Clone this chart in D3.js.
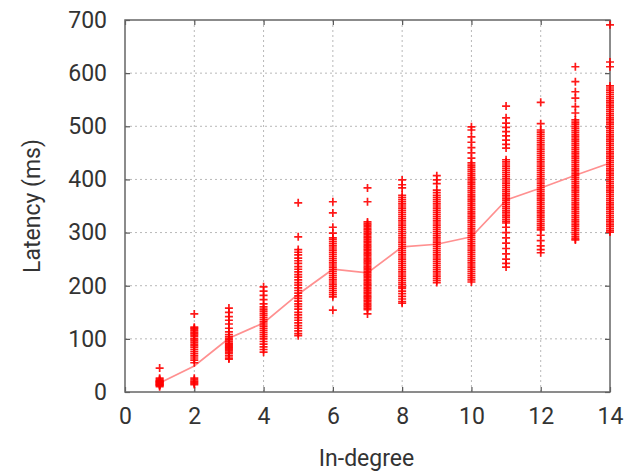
<!DOCTYPE html>
<html>
<head>
<meta charset="utf-8">
<script src="https://cdn.jsdelivr.net/npm/d3@7"></script>
<style>
  html, body { margin: 0; padding: 0; background: #fff; }
  svg { display: block; }
  text { font-family: Roboto, "Open Sans", sans-serif; fill: #333; }
</style>
</head>
<body>
<svg id="chart" width="626" height="472"></svg>
<script>
// ---- data ----
const degrees = [1, 2, 3, 4, 5, 6, 7, 8, 9, 10, 11, 12, 13, 14];
const meanLatency = [17, 49, 101, 130, 184, 231, 224, 273, 278, 292, 361, 384, 408, 431];
const samples = [
  [10, 12, 13, 14, 15, 16, 17, 18, 19, 20, 21, 22, 24, 26, 45],
  [147, 122, 120, 118, 115, 112, 110, 107, 104, 100, 97, 94, 90, 87, 84, 80, 76, 72, 68, 64, 60, 55, 26, 23, 20, 18, 16, 14],
  [158, 150, 142, 135, 128, 120, 113, 108, 104, 101, 98, 95, 92, 90, 88, 86, 84, 82, 80, 78, 75, 72, 68, 64, 62],
  [198, 190, 182, 174, 166, 160, 156, 152, 148, 144, 140, 136, 132, 128, 124, 120, 116, 112, 108, 104, 100, 95, 90, 85, 80, 75],
  [356, 292, 268, 263, 258, 252, 247, 242, 236, 231, 226, 221, 216, 211, 206, 201, 196, 191, 186, 181, 176, 171, 166, 161, 156, 150, 145, 140, 135, 130, 125, 120, 115, 110, 106],
  [358, 337, 310, 299, 290, 287, 283, 279, 275, 271, 267, 263, 259, 255, 251, 247, 243, 239, 235, 231, 227, 223, 219, 215, 211, 207, 203, 199, 195, 191, 187, 183, 179, 154],
  [384, 358, 320, 317, 314, 311, 308, 305, 302, 299, 296, 293, 290, 287, 284, 281, 278, 275, 272, 269, 266, 263, 260, 257, 254, 251, 248, 245, 242, 239, 236, 233, 230, 227, 224, 221, 218, 215, 212, 209, 206, 203, 200, 197, 194, 191, 188, 185, 182, 179, 176, 173, 170, 167, 164, 161, 158, 155, 147],
  [399, 390, 384, 370, 366, 362, 358, 354, 350, 346, 342, 338, 334, 330, 326, 322, 318, 314, 310, 306, 302, 298, 294, 290, 286, 282, 278, 274, 270, 266, 262, 258, 254, 250, 246, 242, 238, 234, 230, 226, 222, 218, 214, 210, 206, 202, 198, 195, 190, 185, 180, 175, 170, 167],
  [407, 399, 392, 380, 375, 370, 366, 362, 358, 354, 350, 346, 342, 338, 334, 330, 326, 322, 318, 314, 310, 306, 302, 298, 294, 290, 286, 282, 278, 274, 270, 266, 262, 258, 254, 250, 246, 242, 238, 234, 230, 226, 222, 218, 214, 210, 206],
  [499, 493, 480, 470, 460, 450, 440, 431, 427, 423, 419, 415, 411, 407, 403, 399, 395, 391, 387, 383, 379, 375, 371, 367, 363, 359, 355, 351, 347, 343, 339, 335, 331, 327, 323, 319, 315, 311, 307, 303, 299, 295, 291, 287, 283, 279, 275, 271, 267, 263, 259, 255, 251, 247, 243, 239, 235, 231, 227, 223, 219, 215, 211, 207],
  [538, 516, 506, 498, 490, 482, 474, 466, 459, 437, 433, 429, 425, 421, 417, 413, 409, 405, 401, 397, 393, 389, 385, 381, 377, 373, 369, 365, 361, 357, 353, 349, 345, 341, 337, 333, 329, 325, 321, 318, 310, 300, 290, 280, 270, 260, 250, 242, 235],
  [545, 505, 493, 489, 485, 481, 477, 473, 469, 465, 461, 457, 453, 449, 445, 441, 437, 433, 429, 425, 421, 417, 413, 409, 405, 401, 397, 393, 389, 385, 381, 377, 373, 369, 365, 361, 357, 353, 349, 345, 341, 337, 333, 329, 325, 321, 317, 313, 309, 305, 295, 285, 275, 268, 262],
  [612, 584, 565, 553, 537, 525, 512, 508, 504, 500, 496, 492, 488, 484, 480, 476, 472, 468, 464, 460, 456, 452, 448, 444, 440, 436, 432, 428, 424, 420, 416, 412, 408, 404, 400, 396, 392, 388, 384, 380, 376, 372, 368, 364, 360, 356, 352, 348, 344, 340, 336, 332, 328, 324, 320, 316, 312, 308, 304, 300, 296, 292, 288, 286],
  [691, 621, 612, 576, 572, 568, 564, 560, 556, 552, 548, 544, 540, 536, 532, 528, 524, 520, 516, 512, 508, 504, 500, 496, 492, 488, 484, 480, 476, 472, 468, 464, 460, 456, 452, 448, 444, 440, 436, 432, 428, 424, 420, 416, 412, 408, 404, 400, 396, 392, 388, 384, 380, 376, 372, 368, 364, 360, 356, 352, 348, 344, 340, 336, 332, 328, 324, 320, 316, 312, 308, 304, 301]
];
const xTicks = [0, 2, 4, 6, 8, 10, 12, 14];
const yTicks = [0, 100, 200, 300, 400, 500, 600, 700];
const xLabel = "In-degree";
const yLabel = "Latency (ms)";

// ---- layout ----
const margin = { left: 125, top: 20, right: 16, bottom: 80 };
const W = 626, H = 472;
const iw = W - margin.left - margin.right;   // 485
const ih = H - margin.top - margin.bottom;   // 372

const svg = d3.select("#chart");
const defs = svg.append("defs");
defs.append("filter").attr("id", "soft").attr("x", "-5%").attr("y", "-5%").attr("width", "110%").attr("height", "110%")
  .append("feGaussianBlur").attr("stdDeviation", 0.45);

const g = svg.append("g").attr("transform", `translate(${margin.left},${margin.top})`);

const x = d3.scaleLinear().domain([0, 14]).range([0, iw]);
const y = d3.scaleLinear().domain([0, 700]).range([ih, 0]);

// grid
g.append("g").selectAll("line").data(xTicks.slice(1, -1)).join("line")
  .attr("x1", d => x(d)).attr("x2", d => x(d)).attr("y1", 0).attr("y2", ih)
  .attr("stroke", "#b8b8b8").attr("stroke-width", 1).attr("stroke-dasharray", "2,3");
g.append("g").selectAll("line").data(yTicks.slice(1, -1)).join("line")
  .attr("x1", 0).attr("x2", iw).attr("y1", d => y(d)).attr("y2", d => y(d))
  .attr("stroke", "#b8b8b8").attr("stroke-width", 1).attr("stroke-dasharray", "2,3");

// axes (ticks inside, mirrored)
const tickLen = 5;
const xAxisB = d3.axisBottom(x).tickValues(xTicks).tickSizeInner(-tickLen).tickSizeOuter(0).tickPadding(16);
const xAxisT = d3.axisTop(x).tickValues(xTicks).tickSizeInner(-tickLen).tickSizeOuter(0).tickFormat("");
const yAxisL = d3.axisLeft(y).tickValues(yTicks).tickSizeInner(-tickLen).tickSizeOuter(0).tickPadding(18);
const yAxisR = d3.axisRight(y).tickValues(yTicks).tickSizeInner(-tickLen).tickSizeOuter(0).tickFormat("");

function styleAxis(sel) {
  sel.select(".domain").remove();
  sel.selectAll(".tick line").attr("stroke", "#555").attr("stroke-width", 1.2);
  sel.selectAll(".tick text").attr("font-family", "Roboto, 'Open Sans', sans-serif")
    .attr("font-size", 23).attr("fill", "#333");
}
g.append("g").attr("transform", `translate(0,${ih})`).call(xAxisB).call(styleAxis);
g.append("g").call(xAxisT).call(styleAxis);
g.append("g").call(yAxisL).call(styleAxis);
g.append("g").attr("transform", `translate(${iw},0)`).call(yAxisR).call(styleAxis);

// border
g.append("rect").attr("x", 0).attr("y", 0).attr("width", iw).attr("height", ih)
  .attr("fill", "none").attr("stroke", "#666").attr("stroke-width", 1.5);

// mean line
const line = d3.line().x((d, i) => x(degrees[i])).y(d => y(d));
g.append("path").datum(meanLatency).attr("d", line)
  .attr("fill", "none").attr("stroke", "#ff9090").attr("stroke-width", 1.7);

// points as '+'
const pts = [];
samples.forEach((arr, i) => arr.forEach(v => pts.push({ d: degrees[i], v })));
const s = 4;
g.append("g").attr("filter", "url(#soft)").selectAll("path").data(pts).join("path")
  .attr("d", p => {
    const cx = x(p.d), cy = y(p.v);
    return `M${cx - s},${cy}H${cx + s}M${cx},${cy - s}V${cy + s}`;
  })
  .attr("stroke", "#ff0000").attr("stroke-width", 1.7).attr("opacity", 0.9).attr("fill", "none");

// axis labels
svg.append("text").attr("x", margin.left + iw / 2 - 1).attr("y", 466)
  .attr("text-anchor", "middle").attr("font-size", 23).text(xLabel);
svg.append("text").attr("transform", `translate(40,206) rotate(-90)`)
  .attr("text-anchor", "middle").attr("font-size", 23).text(yLabel);
</script>
</body>
</html>
